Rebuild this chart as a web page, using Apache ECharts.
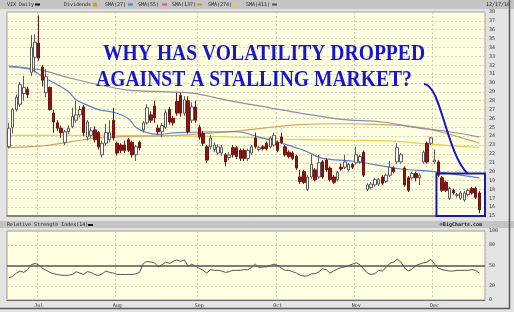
<!DOCTYPE html>
<html><head><meta charset="utf-8">
<script src="https://cdn.jsdelivr.net/npm/echarts@6/dist/echarts.min.js"></script>
<style>html,body{margin:0;padding:0;background:#e3e3e3;}#c{width:514px;height:312px;}</style>
</head><body><div id="c"></div>
<script>
// ---- data ----
const dates = [
'6/21','6/22','6/23','6/24','6/25','6/28','6/29','6/30',
'7/1','7/2','7/6','7/7','7/8','7/9','7/12','7/13','7/14','7/15','7/16','7/19','7/20','7/21','7/22','7/23','7/26','7/27','7/28','7/29','7/30',
'8/2','8/3','8/4','8/5','8/6','8/9','8/10','8/11','8/12','8/13','8/16','8/17','8/18','8/19','8/20','8/23','8/24','8/25','8/26','8/27','8/30','8/31',
'9/1','9/2','9/3','9/7','9/8','9/9','9/10','9/13','9/14','9/15','9/16','9/17','9/20','9/21','9/22','9/23','9/24','9/27','9/28','9/29','9/30',
'10/1','10/4','10/5','10/6','10/7','10/8','10/11','10/12','10/13','10/14','10/15','10/18','10/19','10/20','10/21','10/22','10/25','10/26','10/27','10/28','10/29',
'11/1','11/2','11/3','11/4','11/5','11/8','11/9','11/10','11/11','11/12','11/15','11/16','11/17','11/18','11/19','11/22','11/23','11/24','11/26','11/29','11/30',
'12/1','12/2','12/3','12/6','12/7','12/8','12/9','12/10','12/13','12/14','12/15','12/16','12/17'];

// [open, close, low, high]
const vixOHLC = [
[22.8,24.9,22.6,25.5],[25.0,27.0,24.3,27.2],[27.0,28.4,26.8,28.7],[27.6,29.8,27.3,30.1],[28.8,29.5,28.0,30.8],
[29.3,28.7,28.3,29.6],[31.2,34.0,30.8,35.4],[32.9,34.6,31.2,35.5],[34.5,32.8,32.5,37.6],[31.8,30.3,29.6,32.0],
[28.9,30.7,28.4,31.6],[29.5,27.0,26.9,29.6],[26.6,25.6,24.4,27.0],[25.5,24.9,24.6,25.8],[24.9,24.4,23.8,25.2],
[23.3,24.5,23.0,24.7],[24.5,24.9,24.2,25.2],[25.1,26.2,24.9,27.2],[25.8,26.4,25.5,28.0],[26.4,27.0,26.1,27.4],
[27.3,24.4,24.0,27.5],[23.9,25.6,23.5,25.8],[24.1,24.6,23.8,25.0],[24.7,23.6,23.3,25.1],[24.4,22.8,22.5,24.6],
[21.9,23.2,21.6,23.5],[23.2,24.4,22.9,25.4],[23.6,24.4,23.3,25.8],[25.8,23.8,23.5,27.2],[23.2,22.1,21.8,23.4],
[23.0,22.4,22.1,23.2],[23.0,22.4,22.1,23.5],[23.6,22.4,22.2,23.8],[23.3,21.9,21.6,23.5],[21.9,22.8,21.2,23.0],
[23.3,22.7,22.4,23.5],[24.7,25.5,24.4,25.7],[25.5,27.2,25.3,27.6],[26.4,25.8,25.5,26.8],[27.4,26.1,25.5,28.0],
[24.9,24.5,24.2,25.3],[24.5,25.2,23.9,25.5],[25.0,26.7,24.8,27.0],[27.0,25.6,25.3,27.3],[26.0,25.5,25.2,26.3],
[27.9,26.6,26.3,28.9],[28.6,26.6,26.2,28.9],[26.6,28.1,26.3,28.5],[28.0,24.5,24.3,28.5],[25.8,27.3,25.5,27.8],
[27.3,25.8,25.5,28.0],[25.0,23.9,23.6,25.3],[24.3,23.2,22.9,24.6],[22.8,21.3,21.0,23.0],[22.8,23.8,22.5,24.1],
[22.5,23.0,22.2,23.3],[22.1,22.8,21.9,23.1],[22.1,22.7,21.8,23.0],[21.9,21.1,20.6,22.1],[21.6,21.9,21.3,22.2],
[22.7,21.9,21.6,23.0],[22.7,21.7,21.4,22.9],[22.4,21.5,21.2,22.6],[22.4,21.5,21.2,22.6],[21.5,22.4,21.2,22.6],
[22.1,22.8,21.9,23.0],[23.8,22.8,22.6,24.4],[22.5,22.7,22.3,22.9],[22.8,22.6,22.4,23.0],[23.2,22.6,22.4,23.4],
[22.8,23.8,22.6,24.0],[23.0,24.1,22.8,24.4],[23.3,22.4,22.2,23.5],[23.9,23.3,23.1,24.4],[22.8,21.9,21.7,23.0],
[22.2,21.7,21.5,22.4],[22.1,21.5,21.3,22.3],[21.7,20.4,20.2,21.9],[19.4,18.9,18.6,20.2],[20.0,18.8,18.6,20.2],
[18.0,19.4,17.8,19.6],[19.4,20.8,19.2,21.9],[20.2,19.1,18.9,20.4],[19.4,21.0,19.2,21.9],[21.1,19.4,19.2,21.3],
[21.3,20.2,20.0,21.5],[20.4,19.1,18.9,20.6],[19.4,18.8,18.6,19.6],[19.1,19.9,18.9,20.1],[20.5,20.3,20.1,20.9],
[20.5,21.1,20.3,21.9],[20.2,20.8,20.0,21.0],[20.8,20.5,20.3,21.0],[21.0,21.9,20.8,22.8],[21.1,21.7,20.9,21.9],
[22.2,19.6,19.4,22.4],[18.0,18.5,17.8,18.7],[18.2,18.6,18.0,18.8],[18.5,19.1,18.3,19.3],[18.6,19.1,18.4,19.3],
[19.4,18.7,18.5,19.6],[18.9,19.6,18.7,19.8],[19.6,20.5,19.4,21.2],[20.4,20.0,19.8,20.6],[21.1,22.7,20.9,23.2],
[21.1,21.9,20.9,22.1],[20.4,18.5,18.3,20.6],[19.3,17.9,17.7,19.5],[19.3,19.8,19.1,20.0],[19.8,19.3,18.9,20.0],
[19.3,19.6,18.5,19.8],[21.1,22.2,20.9,22.4],[23.2,21.1,20.9,23.4],[23.2,23.8,23.0,23.9],[21.1,21.3,20.9,22.5],
[21.1,19.6,19.4,21.3],[19.3,17.9,17.7,19.5],[18.8,17.9,17.7,19.0],[17.0,18.1,16.8,18.3],[17.9,17.6,17.4,18.1],
[17.3,17.4,17.1,17.6],[17.0,17.6,16.8,17.8],[16.8,17.6,16.6,17.8],[17.4,17.9,17.2,18.1],[18.1,17.6,17.4,18.3],
[18.1,17.1,16.9,18.3],[17.6,15.7,15.3,17.8]];

// moving averages, read at sample dates
const sma27 = [['6/21',31.8],['6/29',31.5],['7/2',30.7],['7/9',29.8],['7/14',29.0],['7/16',28.1],['7/21',27.5],['7/26',27.0],['7/30',26.7],['8/5',26.0],['8/9',25.0],['8/12',24.4],['8/17',24.2],['8/24',24.4],['9/16',24.5],['9/24',23.9],['10/4',23.2],['10/12',22.4],['10/19',21.5],['10/29',21.2],['11/17',20.3],['12/1',20.0],['12/17',19.3]];
const sma137 = [['6/21',22.7],['7/7',23.0],['7/26',23.8],['8/24',24.1],['9/14',24.5],['10/11',25.3],['10/26',25.4],['11/10',25.3],['11/24',25.0],['12/7',24.2],['12/17',23.2]];
const sma274 = [['6/21',24.1],['7/26',24.1],['9/1',24.0],['9/24',23.8],['10/11',23.6],['11/10',23.5],['11/30',23.1],['12/17',22.7]];
const sma411 = [['6/21',31.9],['7/1',31.5],['7/14',30.6],['7/26',29.8],['8/5',29.2],['8/20',29.0],['8/31',28.8],['9/14',28.0],['9/29',27.2],['10/11',26.6],['10/26',25.9],['11/10',25.6],['11/24',24.9],['12/7',24.5],['12/17',23.9]];

const rsi14 = [32,34,39,42,40,44,51,53,51,46, 43,40,38,37,36,35.5,36,37,41,39, 37,41,40,37,35.5,38,42,40,39,37, 37,37,37,37,38,40,53,56,55,54,
48,51,55,53,56,58,56,58,49,52, 49,46,43,39,44,43,43,42,40,41, 43,43,43,44,44,47,52,47,48,48, 50,52,50,46,43,43,41,39,36,34.5,
35,38,38,41,45,44,39,42,45,47, 48,50,52,54,51,45,39,37,38,43, 42,47,53,55,59,55,46,42,45,50, 52,54,55,59,52,46,44,43,42,42,
43,43,43,43,44,43,39];

const monthStarts = ['7/1','8/2','9/1','10/1','11/1','12/1'];
const monthNames = ['Jul','Aug','Sep','Oct','Nov','Dec'];
const rsiTickLabels = [0,20,50,80,100];
const rsiLevels = [20,50,80];
const boxFromDate = '12/2', boxTop = 19.8, boxBottom = 15;

// ---- chart ----
const cats = dates.concat(['']);
const MONO = 'DejaVu Sans Mono';
const isMonth = (i) => monthStarts.indexOf(cats[i]) >= 0;
const toPts = (arr) => arr.map(p => [dates.indexOf(p[0]), p[1]]);
const chart = echarts.init(document.getElementById('c'));

const gridLine = {color:'#cdd0b4', type:[2,2], width:1};
const maLine = (name, pts, color) => ({
  name, type:'line', xAxisIndex:0, yAxisIndex:0, data:toPts(pts), smooth:0.35,
  showSymbol:false, connectNulls:true, z:2, silent:true,
  lineStyle:{color, width:1.2}
});

chart.setOption({
  animation:false,
  backgroundColor:'#e3e3e3',
  grid:[
    {left:7, right:29, top:12, height:204, show:true, backgroundColor:'#ffffe2', borderColor:'#9c9c9c', borderWidth:1},
    {left:7, right:29, top:231, height:69, show:true, backgroundColor:'#ffffe2', borderColor:'#9c9c9c', borderWidth:1}
  ],
  xAxis:[
    {type:'category', gridIndex:0, data:cats, boundaryGap:true,
     axisLine:{show:true, lineStyle:{color:'#6a6a6a', width:1.5}}, axisTick:{show:false}, axisLabel:{show:false},
     splitLine:{show:true, interval:(i)=>isMonth(i), lineStyle:gridLine}},
    {type:'category', gridIndex:1, data:cats, boundaryGap:true,
     axisLine:{show:true, lineStyle:{color:'#6a6a6a'}}, axisTick:{show:false},
     axisLabel:{show:true, interval:(i)=>isMonth(i), formatter:(v)=>monthNames[monthStarts.indexOf(v)]||'',
       fontFamily:MONO, fontSize:5, color:'#333', margin:3},
     splitLine:{show:true, interval:(i)=>isMonth(i), lineStyle:gridLine}}
  ],
  yAxis:[
    {type:'value', gridIndex:0, position:'right', min:15, max:38, interval:1,
     axisLine:{show:false}, axisTick:{show:false},
     axisLabel:{fontFamily:MONO, fontSize:5, color:'#333', margin:4, showMaxLabel:true},
     splitLine:{show:true, lineStyle:{color:'#d4d4bc', type:[2,2], width:1}}},
    {type:'value', gridIndex:1, position:'right', min:0, max:100, interval:10,
     axisLine:{show:false}, axisTick:{show:false},
     axisLabel:{fontFamily:MONO, fontSize:5, color:'#333', margin:4,
       formatter:(v)=> rsiTickLabels.indexOf(v)>=0 ? String(v) : ''},
     splitLine:{show:false}}
  ],
  series:[
    maLine('SMA(274)', sma274, '#e6d24a'),
    maLine('SMA(137)', sma137, '#d6a266'),
    maLine('SMA(411)', sma411, '#8e8ea6'),
    maLine('SMA(27)', sma27, '#5a82cc'),
    {name:'VIX', type:'candlestick', xAxisIndex:0, yAxisIndex:0, data:vixOHLC, barWidth:3, z:3, silent:true,
     itemStyle:{color:'#ffffff', color0:'#8e1616', borderColor:'#5a5a5a', borderColor0:'#701010', borderWidth:1}},
    {name:'RSI(14)', type:'line', xAxisIndex:1, yAxisIndex:1, data:rsi14, showSymbol:false, silent:true,
     lineStyle:{color:'#555', width:1}, z:3,
     markLine:{symbol:'none', silent:true, label:{show:false},
       data: rsiLevels.map(l => ({yAxis:l, lineStyle: l===50 ? {color:'#555', width:1.6, type:'solid'} : {color:'#cdd0b4', width:1, type:[2,2]}}))}}
  ]
});

// ---- annotations / chrome ----
const p0 = chart.convertToPixel({xAxisIndex:0, yAxisIndex:0}, [dates.indexOf(boxFromDate), boxTop]);
const pB = chart.convertToPixel({xAxisIndex:0, yAxisIndex:0}, [cats.length-1, boxBottom]);
const band = chart.convertToPixel({xAxisIndex:0, yAxisIndex:0}, [1, boxTop])[0] - chart.convertToPixel({xAxisIndex:0, yAxisIndex:0}, [0, boxTop])[0];
const bx0 = p0[0] - band/2, by0 = p0[1], bx1 = pB[0] + band/2, by1 = pB[1];

const hdr = (text, x, y, align, bold) => ({type:'text', z:50, style:{text, x, y, fill:'#222', font:(bold?'bold ':'')+'5px "DejaVu Sans Mono"', textVerticalAlign:'middle', textAlign:align||'left'}});
const sw = (x, y, color, w, h) => ({type:'rect', z:50, shape:{x, y, width:w||5, height:h||2}, style:{fill:color}});
const big = (text, x, y) => ({type:'text', z:60, x, y, scaleY:1.18, style:{text, x:0, y:0, fill:'#1616cc', font:'bold 19.6px "Liberation Serif"', textVerticalAlign:'middle'}});

chart.setOption({graphic:[
  {type:'rect', z:40, shape:{x:0, y:0, width:514, height:9}, style:{fill:'#c4c4c4'}},
  {type:'rect', z:40, shape:{x:0, y:221, width:514, height:7}, style:{fill:'#c4c4c4'}},
  hdr('VIX Daily', 7, 4.5), sw(35, 3.5, '#111'),
  hdr('Dividends', 64, 4.5), sw(93, 2.5, '#d89a30', 4, 4),
  hdr('SMA(27)', 105, 4.5), sw(128, 3.5, '#4f7fd0'),
  hdr('SMA(55)', 138, 4.5), sw(162, 3.5, '#c65a78'),
  hdr('SMA(137)', 172, 4.5), sw(197, 3.5, '#dc8c3c'),
  hdr('SMA(274)', 208, 4.5), sw(233, 3.5, '#e8d040'),
  hdr('SMA(411)', 246, 4.5), sw(272, 3.5, '#555'),
  hdr('12/17/10', 510, 4.5, 'right'),
  hdr('Relative Strength Index(14)', 7, 225), sw(88, 224, '#111'),
  hdr('\u00A9BigCharts.com', 482, 225, 'right', true),
  big('WHY HAS VOLATILITY DROPPED', 103, 54.5),
  big('AGAINST A STALLING MARKET?', 96, 80),
  {type:'bezierCurve', z:60, shape:{x1:424, y1:84, cpx1:441, cpy1:85, cpx2:446, cpy2:152, x2:bx0+31, y2:by0}, style:{stroke:'#1616cc', lineWidth:2, fill:null}},
  {type:'rect', z:60, shape:{x:bx0, y:by0, width:bx1-bx0, height:by1-by0}, style:{stroke:'#1a1aa8', lineWidth:2, fill:null}},
  {type:'polyline', z:70, shape:{points:[[509.5,0],[509.5,308.5],[0,308.5]]}, style:{stroke:'#5a5a5a', lineWidth:1.5, fill:null}}
]});
</script></body></html>
